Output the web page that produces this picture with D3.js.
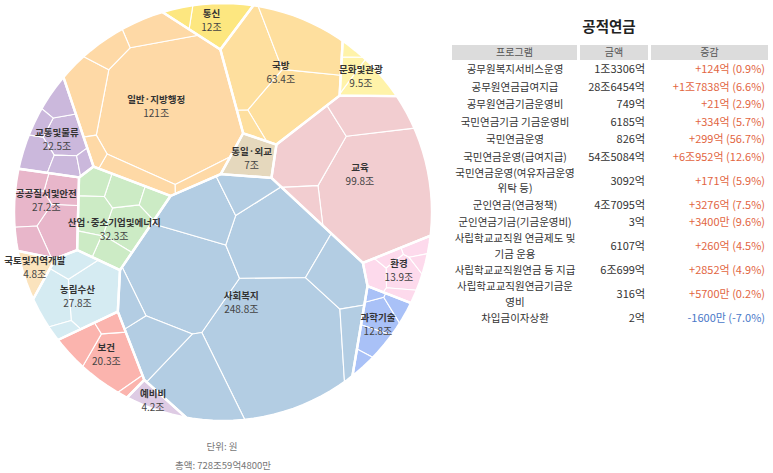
<!DOCTYPE html>
<html><head><meta charset="utf-8">
<script src="https://cdn.jsdelivr.net/npm/d3@7"></script>
<style>
body{margin:0;background:#fff;font-family:"Noto Sans CJK KR","Noto Sans",sans-serif;}
svg{display:block;}
</style></head><body>
<svg id="chart" width="773" height="473"></svg>
<script>
// ---------------- DATA ----------------
const categories = ["사회복지","일반·지방행정","교육","국방","산업·중소기업및에너지","농림수산","공공질서및안전","교통및물류","보건","환경","과학기술","통신","문화및관광","통일·외교","국토및지역개발","예비비"];
const values = [248.8,121,99.8,63.4,32.3,27.8,27.2,22.5,20.3,13.9,12.8,12,9.5,7,4.8,4.2];
const subValues = [
  [80,45,35,25,18,15,12,8,6,4.8],
  [85,12,8,6,5,3,2],
  [62,20,14,3.8],
  [22,20,19,2.4],
  [8,6,5,4,4,3,2.3],
  [14,8,4,1.8],
  [9,6,5,4,3.2],
  [7,5,4,3,2,1.5],
  [12,5,2.3,1],
  [5,3,2,1.5,1.4,1],
  [5,3.5,2,1.3,1],
  [10,2],
  [6,2.5,1],
  [7],
  [4.8],
  [4.2]
];
const colors = ["#b3cde3","#fed9a6","#f2cdd0","#fedf9e","#ccebc5","#d5ebf2","#e8b6ca","#cbb8dc","#fbb4ae","#fddaec","#a9c1f7","#fde780","#fff3a9","#e5d8bd","#fbe3bd","#decbe4"];
const unitLabel = "단위: 원";
const totalLabel = "총액: 728조59억4800만";

const tableTitle = "공적연금";
const tableHeaders = ["프로그램","금액","증감"];
const programs = ["공무원복지서비스운영","공무원연금급여지급","공무원연금기금운영비","국민연금기금 기금운영비","국민연금운영","국민연금운영(급여지급)","국민연금운영(여유자금운영 위탁 등)","군인연금(연금정책)","군인연금기금(기금운영비)","사립학교교직원 연금제도 및 기금 운용","사립학교교직원연금 등 지급","사립학교교직원연금기금운영비","차입금이자상환"];
const amounts = ["1조3306억","28조6454억","749억","6185억","826억","54조5084억","3092억","4조7095억","3억","6107억","6조699억","316억","2억"];
const changes = ["+124억 (0.9%)","+1조7838억 (6.6%)","+21억 (2.9%)","+334억 (5.7%)","+299억 (56.7%)","+6조952억 (12.6%)","+171억 (5.9%)","+3276억 (7.5%)","+3400만 (9.6%)","+260억 (4.5%)","+2852억 (4.9%)","+5700만 (0.2%)","-1600만 (-7.0%)"];

// ---------------- LAYOUT HINTS (initial seeds for the voronoi-treemap, in unit-circle coords) ----------------
const seedHints = [[0.105,0.38],[-0.325,-0.488],[0.655,-0.249],[0.287,-0.632],[-0.5,0.11],[-0.732,0.43],[-0.86,-0.05],[-0.83,-0.4],[-0.579,0.74],[0.84,0.35],[0.72,0.62],[-0.048,-0.895],[0.665,-0.593],[0.12,-0.234],[-0.93,0.3],[-0.325,0.94]];

// ---------------- POWER-DIAGRAM VORONOI TREEMAP ----------------
const cx = 223, cy = 212, R = 209;
const sx = d3.scaleLinear().domain([-1,1]).range([cx-R, cx+R]);
const sy = d3.scaleLinear().domain([-1,1]).range([cy-R, cy+R]);
const circle = d3.range(128).map(i => { const a = 2*Math.PI*i/128; return [sx(Math.cos(a)), sy(Math.sin(a))]; });

function clipHalf(poly, a, b, c) {
  const out = [];
  const n = poly.length;
  for (let k = 0; k < n; k++) {
    const P = poly[k], Q = poly[(k+1)%n];
    const fp = a*P[0]+b*P[1]-c, fq = a*Q[0]+b*Q[1]-c;
    if (fp <= 0) out.push(P);
    if ((fp < 0 && fq > 0) || (fp > 0 && fq < 0)) {
      const t = fp/(fp-fq);
      out.push([P[0]+t*(Q[0]-P[0]), P[1]+t*(Q[1]-P[1])]);
    }
  }
  return out;
}
function powerDiagram(boundary, sites) {
  return sites.map((s, i) => {
    let poly = boundary;
    for (let j = 0; j < sites.length; j++) {
      if (j === i) continue;
      const t = sites[j];
      const a = 2*(t.x-s.x), b = 2*(t.y-s.y);
      const c = t.x*t.x + t.y*t.y - s.x*s.x - s.y*s.y - t.w + s.w;
      poly = clipHalf(poly, a, b, c);
      if (poly.length < 3) return [];
    }
    return poly;
  });
}
const polyArea = p => p.length < 3 ? 0 : Math.abs(d3.polygonArea(p));
function fixOver(sites) {
  let fixed, guard = 0;
  do {
    fixed = false;
    outer: for (let i = 0; i < sites.length; i++) for (let j = i+1; j < sites.length; j++) {
      const a = sites[i], b = sites[j];
      const heavy = a.w > b.w ? a : b, light = a.w > b.w ? b : a;
      const d2 = (a.x-b.x)**2 + (a.y-b.y)**2;
      if (d2 < heavy.w - light.w) { heavy.w = Math.max(d2 + light.w/2, 1e-6); fixed = true; break outer; }
    }
    guard++;
  } while (fixed && guard < 2000);
}
function voronoiMap(boundary, vals, init, maxIter) {
  if (vals.length === 1) return [boundary];
  const A = polyArea(boundary), total = d3.sum(vals), n = vals.length;
  const sites = vals.map((v, i) => ({x: init[i][0], y: init[i][1], w: A/n/2, t: A*v/total}));
  let cells = powerDiagram(boundary, sites);
  for (let it = 0; it < maxIter; it++) {
    sites.forEach((s, i) => { if (cells[i].length >= 3) { const c = d3.polygonCentroid(cells[i]); s.x = c[0]; s.y = c[1]; } });
    fixOver(sites);
    cells = powerDiagram(boundary, sites);
    const mit = it < maxIter*0.5 ? 0.2 : 0.08;
    sites.forEach((s, i) => {
      const a = polyArea(cells[i]);
      let r = a > 0 ? s.t/a : 1+mit;
      r = Math.max(1-mit, Math.min(1+mit, r));
      s.w = Math.max(s.w*r, 1e-6);
    });
    fixOver(sites);
    cells = powerDiagram(boundary, sites);
    const err = d3.sum(sites, (s, i) => Math.abs(polyArea(cells[i]) - s.t)) / (2*A);
    if (err < 0.003) break;
  }
  return cells;
}
function subSeeds(poly, n) {
  const c = d3.polygonCentroid(poly), r = Math.sqrt(polyArea(poly)/Math.PI);
  return d3.range(n).map(k => {
    const ang = k*2.39996323 + 0.7, rad = r*0.6*Math.sqrt((k+0.5)/n);
    let p = [c[0]+rad*Math.cos(ang), c[1]+rad*Math.sin(ang)];
    let g = 0;
    while (!d3.polygonContains(poly, p) && g < 20) { p = [(p[0]+c[0])/2 + 0.01*k, (p[1]+c[1])/2]; g++; }
    return p;
  });
}

const topCells = voronoiMap(circle, values, seedHints.map(h => [sx(h[0]), sy(h[1])]), 600);

// ---------------- DRAW ----------------
const svg = d3.select("#chart");
const line = d3.line().curve(d3.curveLinearClosed);
const gSub = svg.append("g");
const gTop = svg.append("g");
const gLab = svg.append("g");
const labels = [];

categories.forEach((name, i) => {
  const parent = topCells[i];
  if (parent.length < 3) return;
  const sv = subValues[i].slice().sort((a, b) => b - a);
  const subs = voronoiMap(parent, sv, subSeeds(parent, sv.length), 400);
  gSub.selectAll(null).data(subs.filter(p => p.length >= 3)).join("path")
    .attr("d", d => line(d))
    .attr("fill", colors[i])
    .attr("stroke", "#fff").attr("stroke-width", 1.1).attr("stroke-linejoin", "round");
  gTop.append("path").attr("d", line(parent)).attr("fill", "none")
    .attr("stroke", "#fff").attr("stroke-width", 2.4).attr("stroke-linejoin", "round");
  const c = d3.polygonCentroid(parent);
  const g = gLab.append("g");
  g.append("text").attr("text-anchor", "middle").attr("y", -3)
    .style("font-size", "9.5px").style("font-weight", "bold").attr("fill", "#333").text(name);
  g.append("text").attr("text-anchor", "middle").attr("y", 11)
    .style("font-size", "10px").attr("fill", "#444").text(values[i] + "조");
  const bb = g.node().getBBox();
  labels.push({g, x: c[0], y: c[1], bx: bb.x, by: bb.y, bw: bb.width, bh: bb.height});
});

// simple vertical collision resolution between labels
for (let it = 0; it < 60; it++) {
  let moved = false;
  for (let i = 0; i < labels.length; i++) for (let j = i+1; j < labels.length; j++) {
    const a = labels[i], b = labels[j];
    const ox = Math.min(a.x+a.bx+a.bw, b.x+b.bx+b.bw) - Math.max(a.x+a.bx, b.x+b.bx);
    const oy = Math.min(a.y+a.by+a.bh, b.y+b.by+b.bh) - Math.max(a.y+a.by, b.y+b.by);
    if (ox > 0 && oy > -1) {
      const d = (oy + 1.5)/2;
      if (a.y <= b.y) { a.y -= d; b.y += d; } else { a.y += d; b.y -= d; }
      moved = true;
    }
  }
  if (!moved) break;
}
labels.forEach(l => l.g.attr("transform", `translate(${l.x},${l.y})`));

svg.append("text").attr("x", 222).attr("y", 450).attr("text-anchor", "middle")
  .style("font-size", "9.5px").attr("fill", "#777").text(unitLabel);
svg.append("text").attr("x", 223).attr("y", 469).attr("text-anchor", "middle")
  .style("font-size", "9.5px").attr("fill", "#777").text(totalLabel);

// ---------------- TABLE ----------------
const tb = svg.append("g");
tb.append("text").attr("x", 609).attr("y", 32).attr("text-anchor", "middle")
  .style("font-size", "14.5px").style("font-weight", "bold").attr("fill", "#222").text(tableTitle);
const cols = [[452,577],[580,648],[651,768]];
tb.selectAll("rect.h").data(cols).join("rect").attr("class", "h")
  .attr("x", d => d[0]).attr("y", 45).attr("width", d => d[1]-d[0]).attr("height", 15).attr("fill", "#dcdcdc");
tb.selectAll("text.h").data(tableHeaders).join("text").attr("class", "h")
  .attr("x", (d, i) => (cols[i][0]+cols[i][1])/2).attr("y", 56).attr("text-anchor", "middle")
  .style("font-size", "10px").attr("fill", "#555").text(d => d);

// wrap helper
const nameSize = 10.5, lineGap = 15.3;
const meas = tb.append("text").style("font-size", nameSize + "px");
function wrap(str, maxW) {
  const lines = []; let cur = "";
  for (const ch of str) {
    const test = cur + ch;
    meas.text(test.trim());
    if (meas.node().getComputedTextLength() > maxW && cur.trim().length) {
      lines.push(cur.trim()); cur = ch;
    } else cur = test;
  }
  if (cur.trim().length) lines.push(cur.trim());
  return lines;
}
let yTop = 60.5;
programs.forEach((p, i) => {
  const lines = wrap(p, 123.5);
  const h = 17.5 + 13*(lines.length-1);
  const mid = yTop + h/2;
  const t = tb.append("text").attr("text-anchor", "middle").style("font-size", nameSize + "px").attr("fill", "#333");
  lines.forEach((l, k) => {
    t.append("tspan").attr("x", 515).attr("y", mid + (k - (lines.length-1)/2)*lineGap + 3.8).text(l);
  });
  tb.append("text").attr("x", 645).attr("y", mid + 3.8).attr("text-anchor", "end")
    .style("font-size", "11px").attr("fill", "#333").text(amounts[i]);
  tb.append("text").attr("x", 765).attr("y", mid + 3.8).attr("text-anchor", "end")
    .style("font-size", "11px").attr("fill", changes[i].startsWith("-") ? "#4a78c8" : "#e2653f").text(changes[i]);
  yTop += h;
});
meas.remove();
</script>
</body></html>
